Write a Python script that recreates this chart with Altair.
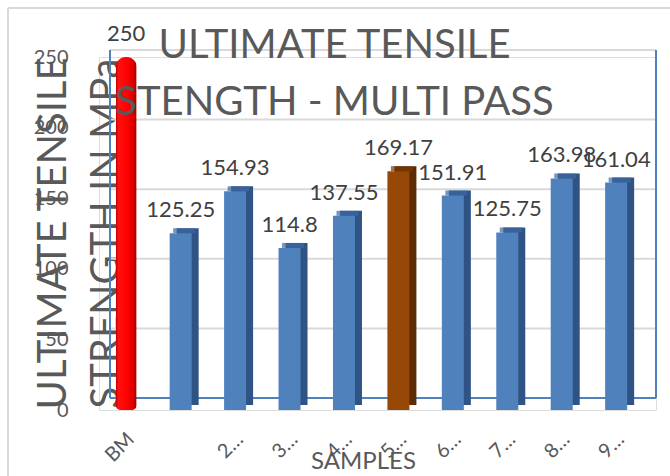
import json
import altair as alt
import pandas as pd

# ---- data -------------------------------------------------------------
SAMPLES = ["BM", "1", "2", "3", "4", "5", "6", "7", "8", "9"]
TICK_LABELS = ["BM", "", "2…", "3…", "4…", "5…", "6…", "7…", "8…", "9…"]
UTS = [250, 125.25, 154.93, 114.8, 137.55, 169.17, 151.91, 125.75, 163.98, 161.04]
KIND = ["base", "weld", "weld", "weld", "weld", "best", "weld", "weld", "weld", "weld"]
Y_TICKS = [0, 50, 100, 150, 200, 250]

df = pd.DataFrame({
    "sample": SAMPLES,
    "uts": UTS,
    "kind": KIND,
    "label": [f"{v:g}" for v in UTS],
})
ticks = pd.DataFrame({"tick": Y_TICKS})
one_row = alt.InlineData(values=[{"k": 1}])

FONT = "Lato"
GREY_TEXT = "#595959"
GRID = "#D9D9D9"
WALL = "#4F81BD"

W, H = 557, 353

# ---- scales -----------------------------------------------------------
label_map = json.dumps(dict(zip(SAMPLES, TICK_LABELS)), ensure_ascii=False)
x_scale = alt.Scale(domain=SAMPLES, paddingInner=0, paddingOuter=0.116, align=0)
x_enc = alt.X(
    "sample:N",
    sort=SAMPLES,
    scale=x_scale,
    axis=alt.Axis(
        title="SAMPLES",
        labelExpr=f"{label_map}[datum.value]",
        labelAngle=315,
        labelAlign="right",
        labelBaseline="middle",
        labelPadding=26,
        labelOffset=5,
        labelFontSize=20,
        labelFont=FONT,
        labelColor=GREY_TEXT,
        ticks=False,
        tickSize=0,
        domain=False,
        grid=False,
        titleFont=FONT,
        titleFontSize=24,
        titleFontWeight="normal",
        titleColor=GREY_TEXT,
        titleX=264,
        titleY=58,
        titleAlign="center",
        titleBaseline="alphabetic",
    ),
)

y_front = alt.Scale(domain=[0, 250], nice=False, zero=True)
y_enc = alt.Y(
    "uts:Q",
    scale=y_front,
    axis=alt.Axis(
        values=Y_TICKS,
        title=["ULTIMATE TENSILE", "STRENGTH IN MPa"],
        titleFont=FONT,
        titleFontSize=40,
        titleFontWeight="normal",
        titleColor=GREY_TEXT,
        titleAngle=270,
        titleAlign="center",
        titleBaseline="middle",
        titleLineHeight=53,
        titleX=-46,
        titleY=176,
        labelFont=FONT,
        labelFontSize=20,
        labelColor=GREY_TEXT,
        labelPadding=31,
        ticks=False,
        tickSize=0,
        domain=False,
        grid=False,
    ),
)

# back wall of the 3-D plot box (slightly higher than the bar fronts)
y_back = alt.Scale(domain=[0, 250], range=[341, -7], nice=False, zero=True)

# ---- back wall --------------------------------------------------------
gridlines = alt.Chart(ticks).mark_rule(color=GRID, strokeWidth=2).encode(
    y=alt.Y("tick:Q", scale=y_back, axis=None),
    x=alt.value(11),
    x2=alt.value(W),
)
wall_left = alt.Chart(one_row).mark_rule(color=WALL, strokeWidth=2).encode(
    y=alt.datum(250, scale=y_back, axis=None), y2=alt.datum(0), x=alt.value(11)
)
wall_right = alt.Chart(one_row).mark_rule(color=WALL, strokeWidth=2).encode(
    y=alt.datum(250, scale=y_back, axis=None), y2=alt.datum(0), x=alt.value(W)
)
wall_floor = alt.Chart(one_row).mark_rule(color=WALL, strokeWidth=2).encode(
    y=alt.datum(0, scale=y_back, axis=None), x=alt.value(11), x2=alt.value(W)
)
frame_top = alt.Chart(one_row).mark_rule(color=GRID, strokeWidth=2).encode(
    y=alt.value(-49), x=alt.value(-91), x2=alt.value(W + 20)
)
frame_left = alt.Chart(one_row).mark_rule(color=GRID, strokeWidth=2).encode(
    x=alt.value(-91), y=alt.value(-49), y2=alt.value(H + 80)
)
back = alt.layer(gridlines, wall_left, wall_right, wall_floor, frame_top, frame_left)

# ---- bars -------------------------------------------------------------
boxes = df[df["kind"] != "base"]
cyl = df[df["kind"] == "base"]

kinds = ["weld", "best"]
front_cols = ["#4F81BD", "#974706"]
top_cols = ["#3C6AA3", "#7A3905"]
side_cols = ["#2F5384", "#5C2B04"]

side = alt.Chart(boxes).mark_bar(width=22, xOffset=7, yOffset=-5).encode(
    x=x_enc, y=y_enc,
    color=alt.Color("kind:N", scale=alt.Scale(domain=kinds, range=side_cols), legend=None),
)
top = alt.Chart(boxes).mark_tick(thickness=5, size=22, xOffset=3.5, yOffset=-2.5).encode(
    x=x_enc, y=y_enc,
    color=alt.Color("kind:N", scale=alt.Scale(domain=kinds, range=top_cols), legend=None),
)
front_bars = alt.Chart(boxes).mark_bar(width=22).encode(
    x=x_enc, y=y_enc,
    color=alt.Color("kind:N", scale=alt.Scale(domain=kinds, range=front_cols), legend=None),
)
cylinder = alt.Chart(cyl).mark_bar(
    width=21,
    cornerRadiusTopLeft=10,
    cornerRadiusTopRight=10,
    cornerRadiusBottomLeft=5,
    cornerRadiusBottomRight=5,
    color={
        "gradient": "linear",
        "x1": 0, "x2": 1, "y1": 0, "y2": 0,
        "stops": [
            {"offset": 0.0, "color": "#B00000"},
            {"offset": 0.12, "color": "#FF1010"},
            {"offset": 0.55, "color": "#FF0000"},
            {"offset": 0.85, "color": "#D80000"},
            {"offset": 1.0, "color": "#9A0000"},
        ],
    },
).encode(x=x_enc, y=y_enc)

values = alt.Chart(df).mark_text(
    font=FONT, fontSize=22, color="#404040", baseline="middle", dy=-23
).encode(x=x_enc, y=y_enc, text="label:N")

front = alt.layer(side, top, front_bars, cylinder, values).resolve_scale(color="independent")

chart = (
    alt.layer(back, front)
    .resolve_scale(y="independent")
    .properties(
        width=W,
        height=H,
        autosize=alt.AutoSizeParams(type="none"),
        padding={"left": 99, "top": 57, "right": 14, "bottom": 66},
        background="white",
        title=alt.TitleParams(
            text=["ULTIMATE TENSILE", "STENGTH - MULTI PASS"],
            font=FONT,
            fontSize=40,
            fontWeight="normal",
            color=GREY_TEXT,
            anchor="middle",
            frame="group",
            baseline="alphabetic",
            lineHeight=57,
            offset=0,
            dx=-43,
            dy=148,
        ),
    )
    .configure_view(stroke=None)
    .configure(font=FONT)
)

chart.save("out.html", embed_options={"renderer": "svg", "actions": False})
